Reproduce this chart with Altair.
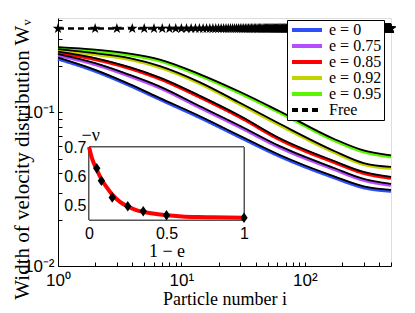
import altair as alt
import pandas as pd

# ---------------- data ----------------
particle_i = [1, 2, 3.8, 6.7, 14, 30, 62, 173, 300, 500]
w_e0    = [0.2225, 0.1854, 0.1497, 0.1214, 0.0928, 0.0688, 0.0520, 0.0376, 0.0324, 0.0307]
w_e075  = [0.2344, 0.2049, 0.1720, 0.1442, 0.1078, 0.0799, 0.0593, 0.0426, 0.0362, 0.0336]
w_e085  = [0.2434, 0.2209, 0.1931, 0.1650, 0.1260, 0.0928, 0.0668, 0.0473, 0.0402, 0.0373]
w_e092  = [0.2527, 0.2379, 0.2209, 0.1960, 0.1543, 0.1127, 0.0829, 0.0550, 0.0459, 0.0433]
w_e095  = [0.2603, 0.2508, 0.2362, 0.2160, 0.1739, 0.1329, 0.1000, 0.0658, 0.0554, 0.0514]
series_labels = ["e = 0", "e = 0.75", "e = 0.85", "e = 0.92", "e = 0.95"]
series_colors = ["#2e4ff8", "#b44cff", "#ff0000", "#c2d400", "#5cf500"]

free_label = "Free"
free_i = list(range(1, 501))
free_w = 0.35

# inset: exponent -nu versus 1-e
inset_curve_x = [0, 0.02, 0.05, 0.08, 0.11, 0.15, 0.2, 0.25, 0.3, 0.35, 0.4, 0.5, 0.6, 0.7, 0.8, 1.0]
inset_curve_y = [0.700, 0.660, 0.622, 0.590, 0.565, 0.537, 0.512, 0.496, 0.485, 0.478,
                 0.473, 0.466, 0.462, 0.460, 0.459, 0.458]
inset_pts_x = [0.05, 0.08, 0.15, 0.25, 0.35, 0.5, 1.0]
inset_pts_y = [0.627, 0.584, 0.527, 0.497, 0.480, 0.466, 0.458]

x_ticks = [1, 2, 3, 4, 5, 6, 7, 8, 9, 10, 20, 30, 40, 50, 60, 70, 80, 90, 100, 200, 300, 400, 500]
y_ticks = [0.01, 0.02, 0.03, 0.04, 0.05, 0.06, 0.07, 0.08, 0.09, 0.1, 0.2, 0.3, 0.4]

# ---------------- tables ----------------
all_w = [w_e0, w_e075, w_e085, w_e092, w_e095]
rows = []
for lab, ws in zip(series_labels, all_w):
    for i, w in zip(particle_i, ws):
        rows.append({"i": i, "w": w, "label": lab})
curves = pd.DataFrame(rows)
free_df = pd.DataFrame({"i": free_i, "w": [free_w] * len(free_i), "label": free_label})
inset_curve = pd.DataFrame({"ie": inset_curve_x, "nu": inset_curve_y})
inset_pts = pd.DataFrame({"ie": inset_pts_x, "nu": inset_pts_y})

SERIF = "Liberation Serif, Times New Roman, serif"
SANS = "Liberation Sans, Arial, sans-serif"

legend_def = alt.Legend(
    orient="none", legendX=229, legendY=2, title=None,
    symbolType="M-3,0L3,0", symbolSize=100, symbolStrokeWidth=4,
    labelFont=SERIF, labelFontSize=16, labelColor="black",
    fillColor="white", strokeColor="black", padding=2,
    rowPadding=0, labelOffset=14, symbolOffset=10,
)
color_enc = alt.Color("label:N",
                      scale=alt.Scale(domain=series_labels + [free_label],
                                      range=series_colors + ["black"]),
                      legend=legend_def)
dash_enc = alt.StrokeDash("label:N",
                          scale=alt.Scale(domain=series_labels + [free_label],
                                          range=[[1, 0]] * 5 + [[6, 4]]),
                          legend=legend_def)

x_axis = alt.Axis(values=x_ticks, title="Particle number i", labelFlush=False,
                  labelExpr="datum.value == 1 ? '10⁰' : datum.value == 10 ? '10¹' : datum.value == 100 ? '10²' : ''",
                  labelOverlap=False, tickSize={"expr": "-4"}, labelPadding=10,
                  labelFont=SANS, labelFontSize=17, titleFont=SERIF, titleFontSize=18,
                  titleFontWeight="normal", grid=False, tickColor="black",
                  domainColor="black", labelColor="black", titleColor="black", titlePadding=2)
y_axis = alt.Axis(values=y_ticks, title="Width of velocity distribution Wᵥ",
                  labelExpr="datum.value == 0.1 ? '10⁻¹' : datum.value == 0.01 ? '10⁻²' : ''",
                  labelOverlap=False, tickSize={"expr": "-4"}, labelPadding=8,
                  labelFont=SANS, labelFontSize=17, titleFont=SERIF, titleFontSize=21,
                  titleFontWeight="normal", grid=False, tickColor="black",
                  domainColor="black", labelColor="black", titleColor="black",
                  titleX=-26, titleY=141)
X = alt.X("i:Q", scale=alt.Scale(type="log", domain=[1, 500], nice=False), axis=x_axis)
Y = alt.Y("w:Q", scale=alt.Scale(type="log", domain=[0.01, 0.41], nice=False), axis=y_axis)

star = "M0,-1L0.2245,-0.309L0.951,-0.309L0.3633,0.118L0.5878,0.809L0,0.382L-0.5878,0.809L-0.3633,0.118L-0.951,-0.309L-0.2245,-0.309Z"

colored = alt.Chart(curves).mark_line(strokeWidth=3.5, interpolate="monotone").encode(
    x=X, y=Y, color=color_enc, strokeDash=dash_enc)
blacks = alt.Chart(curves).mark_line(strokeWidth=1.8, interpolate="monotone", yOffset=-1.2,
                                     color="black").encode(x=X, y=Y, detail="label:N")
free_line = alt.Chart(free_df).mark_line(strokeWidth=2.5).encode(
    x=X, y=Y, color=color_enc, strokeDash=dash_enc)
free_stars = alt.Chart(free_df).mark_point(shape=star, filled=True, size=120, color="black",
                                           opacity=1, strokeWidth=0).encode(x=X, y=Y)
main = alt.layer(colored, blacks, free_line, free_stars)

# ---------------- inset ----------------
sx = alt.Scale(domain=[0, 1], range=[31, 186], nice=False, zero=False)
sy = alt.Scale(domain=[0.45, 0.7], range=[202, 129], nice=False, zero=False)
ix_axis = alt.Axis(orient="bottom", offset=-46, values=[0, 0.5, 1], domain=False, format="~g",
                   tickSize={"expr": "-4"}, labelPadding=9, tickColor="#555",
                   labelFont=SANS, labelFontSize=16, labelColor="black", labelFlush=False,
                   title="1 − e", titleFont=SERIF, titleFontSize=18, titleFontWeight="normal",
                   titleColor="black", titlePadding=1, grid=False)
iy_axis = alt.Axis(orient="left", offset=-31, values=[0.5, 0.6, 0.7], domain=False,
                   tickSize={"expr": "-4"}, labelPadding=7, tickColor="#555",
                   labelFont=SANS, labelFontSize=16, labelColor="black", format=".1f",
                   title="−ν", titleFont=SERIF, titleFontSize=18, titleFontWeight="normal",
                   titleColor="black", titleAngle=0, titleAlign="left", titleBaseline="alphabetic",
                   titleX=-8, titleY=122, grid=False)

box = alt.Chart(inset_pts).mark_rect(fill="white", stroke="#555", strokeWidth=1).encode(
    x=alt.X(datum=0, type="quantitative", scale=sx, axis=ix_axis),
    x2=alt.X2(datum=1),
    y=alt.Y(datum=0.45, type="quantitative", scale=sy, axis=iy_axis),
    y2=alt.Y2(datum=0.7),
)
red = alt.Chart(inset_curve).mark_line(color="#ff0000", strokeWidth=4, interpolate="monotone").encode(
    x=alt.X("ie:Q", scale=sx, axis=ix_axis), y=alt.Y("nu:Q", scale=sy, axis=iy_axis))
diamonds = alt.Chart(inset_pts).mark_point(
    shape="M0,-1L0.7,0L0,1L-0.7,0Z", filled=True, color="black", size=110, opacity=1, strokeWidth=0
).encode(x=alt.X("ie:Q", scale=sx, axis=ix_axis), y=alt.Y("nu:Q", scale=sy, axis=iy_axis))
inset = alt.layer(box, red, diamonds)

chart = alt.layer(main, inset).resolve_scale(x="independent", y="independent").properties(
    width=333, height=248,
    autosize=alt.AutoSizeParams(type="none"),
    padding={"left": 50, "top": 10, "right": 16, "bottom": 47},
).configure_view(stroke="black", strokeWidth=1).configure(background="white")

chart.save("out.html", embed_options={"renderer": "svg", "actions": False})
